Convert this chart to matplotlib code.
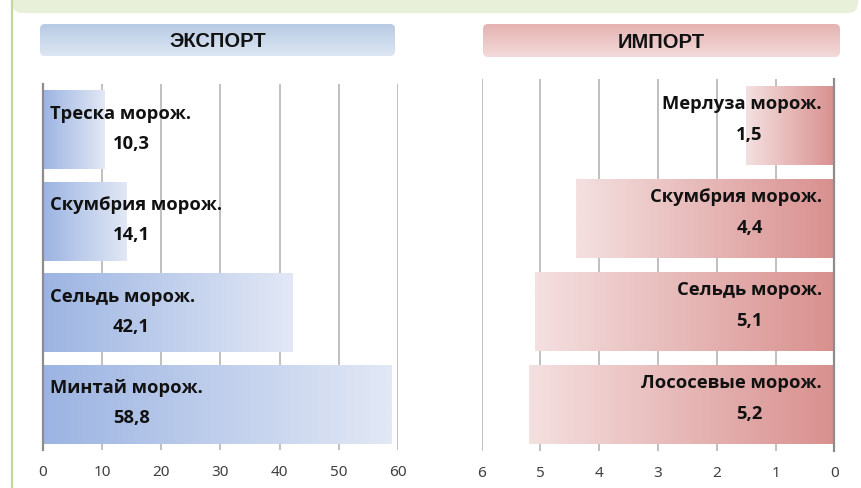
import matplotlib.pyplot as plt
import numpy as np
from matplotlib.colors import LinearSegmentedColormap
from matplotlib.patches import FancyBboxPatch

export_names = ['Треска морож.', 'Скумбрия морож.', 'Сельдь морож.', 'Минтай морож.']
export_values = [10.3, 14.1, 42.1, 58.8]
export_labels = ['10,3', '14,1', '42,1', '58,8']
import_names = ['Мерлуза морож.', 'Скумбрия морож.', 'Сельдь морож.', 'Лососевые морож.']
import_values = [1.5, 4.4, 5.1, 5.2]
import_labels = ['1,5', '4,4', '5,1', '5,2']
export_ticks = [0, 10, 20, 30, 40, 50, 60]
import_ticks = [0, 1, 2, 3, 4, 5, 6]

W, H = 862, 488
fig = plt.figure(figsize=(W / 100, H / 100), dpi=100)
fig.patch.set_facecolor('white')

lbl_font = ['Open Sans', 'DejaVu Sans']
tick_font = ['Noto Sans', 'DejaVu Sans']
head_font = ['Liberation Sans', 'DejaVu Sans']


def px_axes(x0, y0, x1, y1):
    return fig.add_axes([x0 / W, 1 - y1 / H, (x1 - x0) / W, (y1 - y0) / H])


blue = LinearSegmentedColormap.from_list('blue', ['#9cb4e2', '#e2e8f5'])
red = LinearSegmentedColormap.from_list('red', ['#d8908e', '#f4e0e0'])


def gradient_bars(ax, values, cmap, h):
    bars = ax.barh(range(len(values)), values, height=h, color='none',
                   edgecolor='none', zorder=2)
    grad = np.linspace(0, 1, 256).reshape(1, -1)
    for b in bars:
        x0, y0 = b.get_x(), b.get_y()
        im = ax.imshow(grad, cmap=cmap, aspect='auto', interpolation='bilinear',
                       extent=[x0, x0 + b.get_width(), y0 + b.get_height(), y0],
                       zorder=2)
        im.set_clip_path(b)
    return bars


def style(ax, ticks, xlim, spine):
    ax.set_xlim(*xlim)
    ax.set_ylim(3.5, -0.5)
    ax.set_xticks(ticks)
    ax.set_xticklabels([str(t) for t in ticks], family=tick_font)
    ax.set_yticks([])
    ax.grid(axis='x', color='#c0c0c0', lw=1.4, zorder=0)
    ax.set_axisbelow(True)
    for s in ax.spines.values():
        s.set_visible(False)
    ax.spines[spine].set_visible(True)
    ax.spines[spine].set_color('#8c8c8c')
    ax.spines[spine].set_linewidth(1.6)
    ax.spines[spine].set_zorder(3)
    ax.tick_params(axis='x', length=0, pad=11, labelsize=11, labelcolor='#404040')
    ax.set_facecolor('none')


# left: export
ax1 = px_axes(42.7, 84, 398.3, 450)
gradient_bars(ax1, export_values, blue, 0.865)
style(ax1, export_ticks, (0, 60), 'left')
for i, (n, v) in enumerate(zip(export_names, export_labels)):
    ax1.annotate(n, xy=(0, i), xytext=(5, 11.5), textcoords='offset points',
                 ha='left', va='center', fontsize=13.2, fontweight='bold',
                 family=lbl_font, color='#111111', zorder=5)
    ax1.annotate(v, xy=(0, i), xytext=(64, -10), textcoords='offset points',
                 ha='center', va='center', fontsize=13.2, fontweight='bold',
                 family=lbl_font, color='#111111', zorder=5)

# right: import
ax2 = px_axes(481.7, 79, 834.3, 451)
gradient_bars(ax2, import_values, red, 0.86)
style(ax2, import_ticks, (6, 0), 'right')
for i, (n, v) in enumerate(zip(import_names, import_labels)):
    ax2.annotate(n, xy=(0, i), xytext=(-9, 15.5), textcoords='offset points',
                 ha='right', va='center', fontsize=13.2, fontweight='bold',
                 family=lbl_font, color='#111111', zorder=5)
    ax2.annotate(v, xy=(0, i), xytext=(-61, -7), textcoords='offset points',
                 ha='center', va='center', fontsize=13.2, fontweight='bold',
                 family=lbl_font, color='#111111', zorder=5)

# decoration layer in pixel coordinates
deco = fig.add_axes([0, 0, 1, 1], zorder=-1)
deco.set_xlim(0, W)
deco.set_ylim(H, 0)
deco.axis('off')

deco.add_patch(FancyBboxPatch((12, -30), 846, 43, boxstyle='round,pad=0,rounding_size=10',
                              facecolor='#e8f0da', edgecolor='none'))
deco.plot([12, 12], [0, H], color='#c3d69b', lw=1.6)


def header(x0, x1, y0, y1, top, bottom, text):
    box = FancyBboxPatch((x0, y0), x1 - x0, y1 - y0, boxstyle='round,pad=0,rounding_size=5',
                         facecolor='none', edgecolor='none')
    deco.add_patch(box)
    cm = LinearSegmentedColormap.from_list('h', [top, bottom])
    im = deco.imshow(np.linspace(0, 1, 64).reshape(-1, 1), cmap=cm, aspect='auto',
                     extent=[x0, x1, y1, y0], interpolation='bilinear')
    im.set_clip_path(box)
    deco.text((x0 + x1) / 2, (y0 + y1) / 2 + 1.5, text, ha='center', va='center',
              fontsize=14.5, fontweight='bold', family=head_font, color='#111111')


header(40, 395, 24, 56, '#b8cbe4', '#dde6f2', 'ЭКСПОРТ')
header(483, 840, 24, 57, '#e5b3b2', '#f3dada', 'ИМПОРТ')
deco.set_xlim(0, W)
deco.set_ylim(H, 0)

fig.savefig('out.png', dpi=100)
